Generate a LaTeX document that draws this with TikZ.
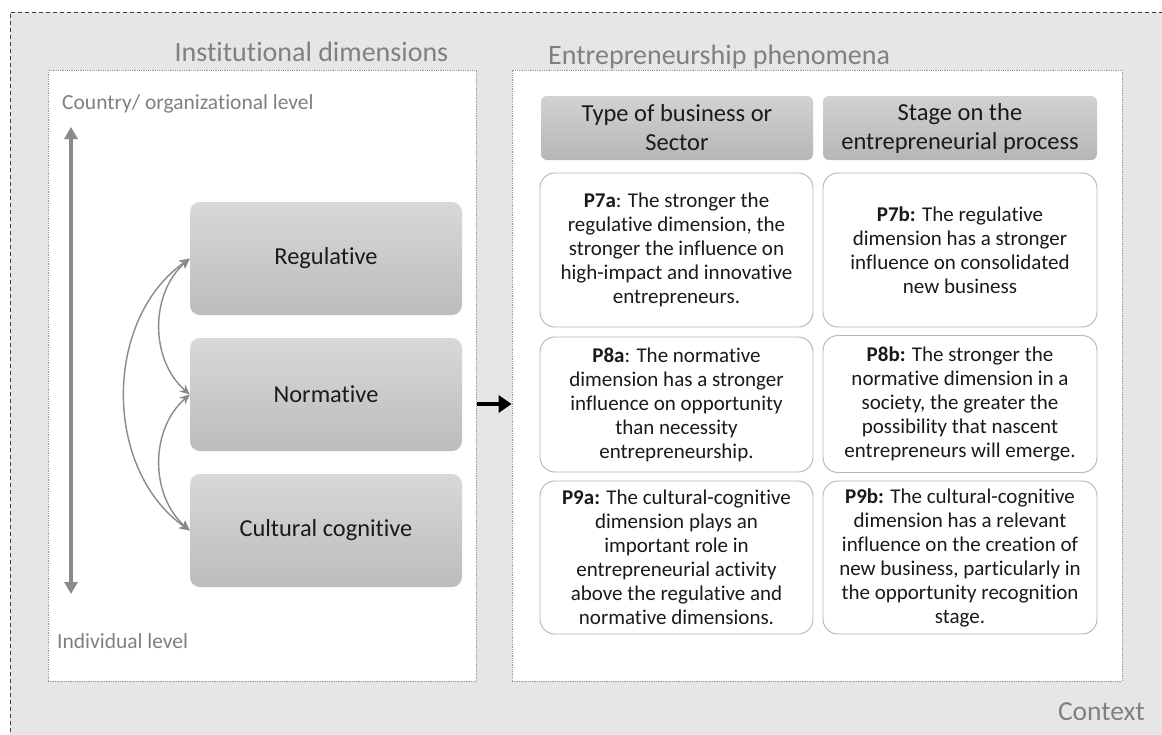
\documentclass[tikz,border=0pt]{standalone}
\usepackage{fontspec}
\setmainfont[Ligatures={NoCommon}]{Carlito}
\usetikzlibrary{arrows.meta,calc}
\definecolor{ctxbg}{HTML}{E6E6E6}
\definecolor{labelgray}{HTML}{808080}
\definecolor{linegray}{HTML}{8A8A8A}
\definecolor{boxtop}{HTML}{D8D8D8}
\definecolor{boxbot}{HTML}{BCBCBC}
\definecolor{hdrtop}{HTML}{D2D2D2}
\definecolor{hdrbot}{HTML}{B6B6B6}
\definecolor{propline}{HTML}{B4B4B4}
\definecolor{ink}{HTML}{1A1A1A}
\tikzset{
  panel/.style={draw=black!40, fill=white, densely dotted, line width=0.8pt, inner sep=0pt},
  dimbox/.style={rounded corners=10pt, top color=boxtop, bottom color=boxbot, draw=none,
    minimum width=272pt, minimum height=113pt, inner sep=0pt, text=ink,
    font=\fontsize{24.4}{29}\selectfont},
  hdrbox/.style={rounded corners=6pt, top color=hdrtop, bottom color=hdrbot, draw=none,
    minimum height=64pt, inner sep=0pt, align=center, text=ink,
    font=\fontsize{24.5}{29}\selectfont},
  propbox/.style={rounded corners=15pt, fill=white, draw=propline, line width=0.9pt,
    inner sep=0pt, align=center, text=ink, font=\fontsize{21}{24}\selectfont},
  title/.style={text=labelgray, inner sep=0pt, anchor=base, font=\fontsize{28}{32}\selectfont},
  level/.style={text=labelgray, inner sep=0pt, anchor=base west, font=\fontsize{21.5}{25}\selectfont},
  link/.style={draw=linegray, line width=1.4pt, {Stealth[length=10pt,width=9pt]}-{Stealth[length=10pt,width=9pt]}},
  axis/.style={draw=linegray, line width=3.5pt, {Triangle[length=12pt,width=13pt]}-{Triangle[length=12pt,width=13pt]}},
  push/.style={draw=black, line width=4.5pt, -{Triangle[length=13pt,width=17pt]}}
}
\begin{document}
\begin{tikzpicture}[x=1pt,y=-1pt]
\useasboundingbox (0,0) rectangle (1162,734);
% context background with dashed frame
\fill[ctxbg] (10,12) rectangle (1170,745);
\draw[black!75, line width=1pt, dash pattern=on 4pt off 3pt] (1170,12) -- (10,12) -- (10,745);
\node[text=labelgray, inner sep=0pt, anchor=base east, font=\fontsize{27.5}{32}\selectfont] (ctx) at (1145,720) {Context};

% the two panels
\node[panel, minimum width=428pt, minimum height=611pt] (left) at (262,375.5) {};
\node[panel, minimum width=610pt, minimum height=611pt] (right) at (817,375.5) {};
\node[title] (ttl) at (311.5,61) {Institutional dimensions};
\node[title, anchor=base west] (ttr) at (548,64) {Entrepreneurship phenomena};

% levels and axis
\node[level] (country) at (62,109) {Country/ organizational level};
\node[level] (indiv) at (57,648) {Individual level};
\coordinate (axtop) at (71,127);
\coordinate (axbot) at (71,594);
\draw[axis] (axtop) -- (axbot);

% institutional dimensions
\node[dimbox] (reg) at (326,258.5) {Regulative};
\node[dimbox] (norm) at (326,394.5) {Normative};
\node[dimbox] (cult) at (326,530.5) {Cultural cognitive};
\draw[link] (reg.west) to[bend right=49] (norm.west);
\draw[link] (norm.west) to[bend right=49] (cult.west);
\draw[link] (reg.west) to[bend right=55] (cult.west);

% arrow between the panels
\coordinate (pushfrom) at (477,404);
\draw[push] (pushfrom) -- (right.west |- pushfrom);

% column headers
\node[hdrbox, minimum width=272pt] (hA) at (677,128) {Type of business or\\Sector};
\node[hdrbox, minimum width=274pt] (hB) at (960,128) {Stage on the\\entrepreneurial process};

% propositions
\node[propbox, minimum width=273pt, minimum height=154pt] (p7a) at (676.5,250)
  {\textbf{P7a}: The stronger the\\regulative dimension, the\\stronger the influence on\\high-impact and innovative\\entrepreneurs.};
\node[propbox, minimum width=274pt, minimum height=154pt] (p7b) at (960,250)
  {\textbf{P7b:} The regulative\\dimension has a stronger\\influence on consolidated\\new business};
\node[propbox, minimum width=273pt, minimum height=135pt] (p8a) at (676.5,404.5)
  {\textbf{P8a}: The normative\\dimension has a stronger\\influence on opportunity\\than necessity\\entrepreneurship.};
\node[propbox, minimum width=274pt, minimum height=137pt] (p8b) at (960,404)
  {\textbf{P8b:} The stronger the\\normative dimension in a\\society, the greater the\\possibility that nascent\\entrepreneurs will emerge.};
\node[propbox, minimum width=273pt, minimum height=153pt] (p9a) at (676.5,557.5)
  {\textbf{P9a:} The cultural-cognitive\\dimension plays an\\important role in\\entrepreneurial activity\\above the regulative and\\normative dimensions.};
\node[propbox, minimum width=274pt, minimum height=153pt] (p9b) at (960,557.5)
  {\textbf{P9b:} The cultural-cognitive\\dimension has a relevant\\influence on the creation of\\new business, particularly in\\the opportunity recognition\\stage.};
\end{tikzpicture}
\end{document}
